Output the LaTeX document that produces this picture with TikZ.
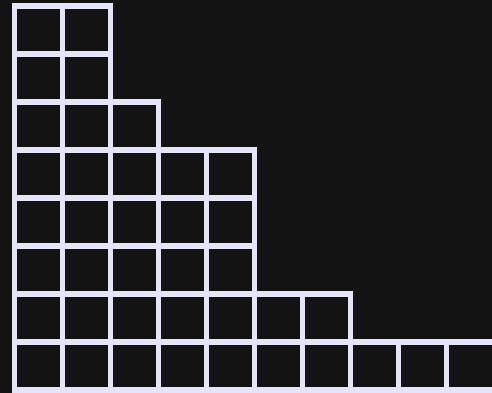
\documentclass[tikz,border=0pt]{standalone}
\usepackage{tikz}
\definecolor{gridline}{HTML}{E4E4FA}
\definecolor{slate}{HTML}{131313}

\begin{document}
\begin{tikzpicture}[
  x=1pt,y=1pt,
  cell/.style={draw=gridline,line width=5.5pt,line join=miter}
]
\useasboundingbox (0,0) rectangle (492,393);
\clip (0,0) rectangle (492,393);
\fill[slate] (0,0) rectangle (492,393);
% rows from the bottom: row index / number of cells
\foreach \r/\n in {0/10,1/7,2/5,3/5,4/5,5/3,6/2,7/2}{
  \foreach \c in {1,...,\n}{
    \draw[cell] ({14.5+48*(\c-1)},{3+48*\r}) rectangle ++(48,48);
  }
}
\end{tikzpicture}
\end{document}
